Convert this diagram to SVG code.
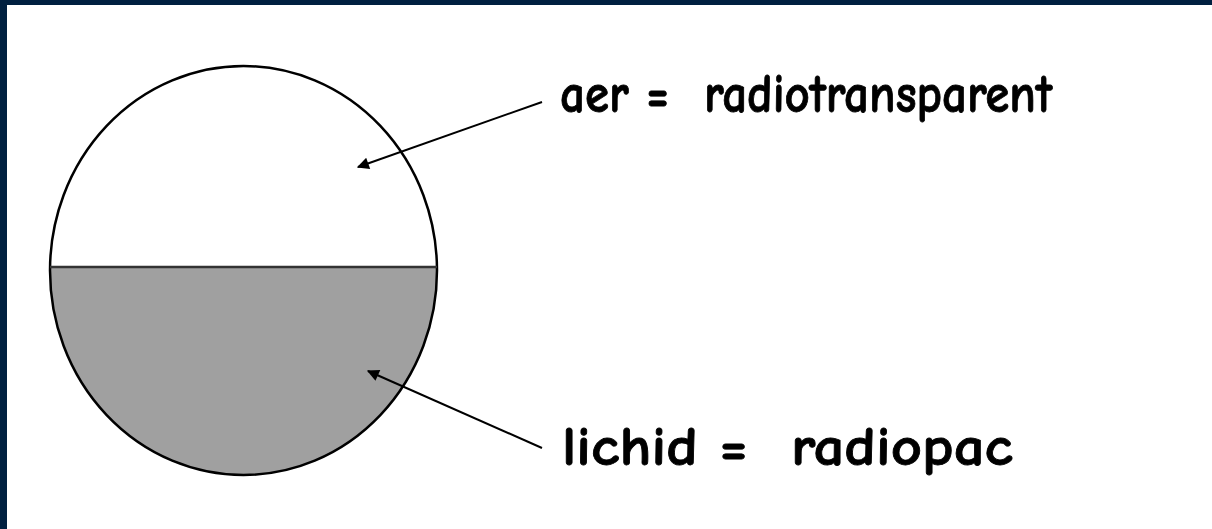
<svg xmlns="http://www.w3.org/2000/svg" width="1212" height="529" viewBox="0 0 1212 529">
<style>
.lbl{font-family:"Comic Neue","DejaVu Sans","Liberation Sans",sans-serif;font-size:54px;font-weight:bold;fill:#000;stroke:#000;stroke-width:0.8}
.conn{stroke:#000;stroke-width:2;fill:none}
</style>
<defs>
<marker id="ah2" viewBox="0 0 10 10" refX="9" refY="5" markerWidth="14" markerHeight="12" orient="auto" markerUnits="userSpaceOnUse">
<path d="M0,0 L10,5 L0,10 z" fill="#000"/>
</marker>
<clipPath id="bot"><rect x="0" y="267" width="1212" height="262"/></clipPath>
</defs>
<rect x="0" y="0" width="1212" height="529" fill="#ffffff"/>
<rect x="0" y="0" width="1212" height="5" fill="#002040"/>
<rect x="0" y="0" width="7" height="529" fill="#002040"/>
<g id="circle">
<ellipse cx="243.5" cy="270.5" rx="193.5" ry="204.5" fill="#ffffff"/>
<ellipse cx="243.5" cy="270.5" rx="193.5" ry="204.5" fill="#a0a0a0" clip-path="url(#bot)"/>
<ellipse cx="243.5" cy="270.5" rx="193.5" ry="204.5" fill="none" stroke="#000" stroke-width="2.5"/>
<line x1="50" y1="267" x2="437" y2="267" stroke="#333" stroke-width="2.5"/>
</g>
<g id="connectors">
<line class="conn" x1="542" y1="102" x2="358" y2="167" marker-end="url(#ah2)"/>
<line class="conn" x1="542" y1="448" x2="368" y2="371" marker-end="url(#ah2)"/>
</g>
<g id="label-aer">
<text class="lbl" x="560" y="112" textLength="492" lengthAdjust="spacingAndGlyphs" xml:space="preserve">aer =  radiotransparent</text>
</g>
<g id="label-lichid">
<text class="lbl" x="562" y="465" textLength="451" lengthAdjust="spacingAndGlyphs" xml:space="preserve">lichid =  radiopac</text>
</g>
</svg>
